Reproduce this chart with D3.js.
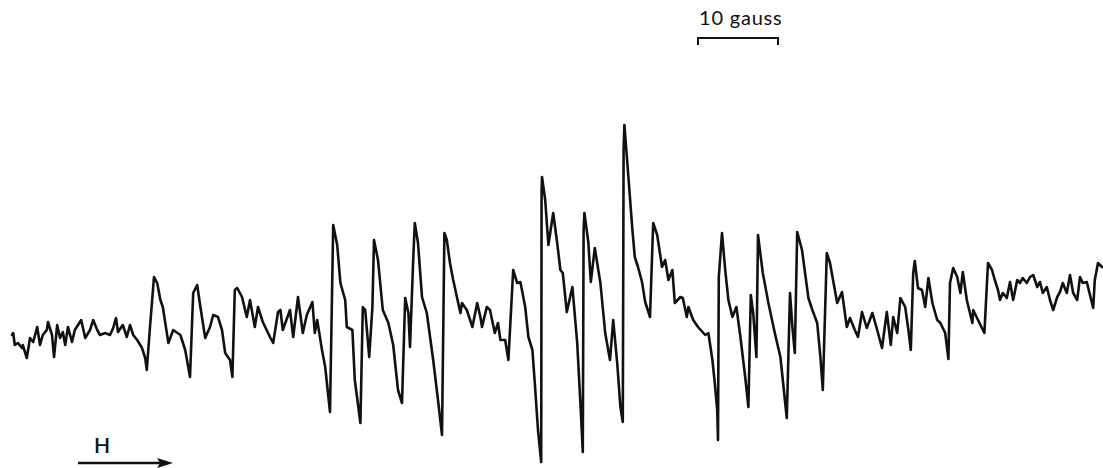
<!DOCTYPE html>
<html><head><meta charset="utf-8">
<script src="https://cdn.jsdelivr.net/npm/d3@7"></script>
<style>html,body{margin:0;padding:0;background:#fff;}svg{display:block;}</style>
</head><body>
<svg id="c" width="1103" height="468"></svg>
<script>
// Magnetic field offset (gauss)
const field = [0.25,0.4,0.6,1.0,1.5,1.6,2.1,2.5,2.9,3.4,3.75,4.1,4.6,4.75,5.25,5.5,5.9,6.25,6.6,6.9,7.25,7.75,8.1,8.5,8.9,9.4,10.0,10.4,10.9,11.25,11.9,12.5,12.9,13.25,13.5,14.1,14.6,15.0,15.4,15.9,16.5,16.9,17.1,
17.5,18.0,18.4,18.8,19.1,19.8,20.4,21.3,21.9,22.5,22.9,23.4,23.8,24.4,25.0,25.4,26.0,26.5,26.9,27.5,27.8,28.1,28.4,29.0,29.6,30.0,30.6,31.0,31.6,32.5,32.9,33.5,33.8,34.1,35.0,35.4,36.0,36.6,37.1,37.8,38.1,38.4,39.0,39.4,40.0,40.4,40.9,41.3,41.9,42.1,42.8,43.1,43.8,44.1,44.4,44.9,45.3,45.5,46.0,46.6,47.3,47.9,48.5,49.0,49.4,49.8,50.0,50.4,50.6,51.0,51.5,52.1,52.9,53.5,54.0,54.3,54.6,55.0,55.4,56.3,56.5,57.1,57.8,58.4,58.8,59.0,59.6,60.0,60.6,61.0,61.3,61.9,62.3,62.9,63.4,63.8,64.4,64.8,65.3,65.6,66.0,66.4,66.45,66.5,66.9,67.3,67.9,68.4,68.8,69.1,69.6,70.3,70.9,71.3,71.6,71.7,71.8,72.3,72.6,73.1,73.8,74.4,75.0,75.4,75.9,76.3,76.6,76.7,76.8,77.3,77.8,78.1,78.5,79.0,79.4,80.0,80.4,80.9,81.5,81.9,82.3,82.8,83.1,83.8,84.1,84.6,84.8,85.4,86.0,86.9,87.3,87.8,88.1,88.4,88.5,88.6,89.0,89.4,89.8,90.3,90.8,91.3,91.9,92.3,92.6,92.9,93.3,93.5,94.1,94.8,95.6,96.3,96.9,97.1,97.5,97.8,98.1,98.4,99.0,99.8,100.3,100.9,101.3,101.6,102.1,102.5,103.4,104.0,104.6,105.0,105.6,106.0,106.5,107.1,107.8,108.4,109.0,109.6,110.1,110.4,110.9,111.3,111.9,112.3,112.6,112.9,113.1,113.5,114.0,114.4,114.8,115.3,115.9,116.3,116.9,117.3,117.5,117.9,118.4,118.8,119.1,119.6,120.3,120.4,121.0,121.8,
122.25,122.75,123.1,123.5,123.75,124.1,124.6,125.0,125.4,125.9,126.25,126.6,127.1,127.5,127.9,128.4,128.75,129.1,129.6,130.0,130.4,130.9,131.25,131.6,132.1,132.5,132.9,133.4,133.75,134.1,134.6,135.0,135.4,135.6,136.0,136.5];
// First-derivative absorption signal (arbitrary units)
const signal = [-0.5,-0.3,-1.5,-1.3,-1.8,-1.5,-2.8,-0.8,-1.2,0.3,-1.5,-0.5,0,0.8,-0.5,-2.7,0.5,-0.8,-0.2,-1.5,0.3,-1.2,0,0.5,1.0,-0.8,0,1.0,0,-0.5,-0.3,-0.5,0.2,1.2,-0.2,0.5,-0.7,0.5,-0.5,-1.0,-1.8,-2.8,-4.0,
0.3,5.3,4.7,3.0,2.3,-1.3,0,-0.5,-2.0,-4.7,3.7,4.5,2.3,-0.8,0.3,1.5,1.3,0,-2.3,-3.0,-4.7,4.0,4.2,3.3,1.3,3.0,0.3,2.3,0.8,-0.7,-1.3,1.8,2.0,0,2.0,-0.7,3.3,-0.3,1.5,2.8,-0.3,1.0,-2.0,-3.7,-8.2,10.5,8.5,4.7,3.0,0.3,0,-5.0,-9.3,2.3,2.0,-2.7,2.3,9.0,7.0,2.0,0.7,-1.5,-6.0,-7.3,3.2,1.7,-1.7,7.0,10.7,8.7,3.3,1.7,-3.0,-7.0,-10.5,9.7,9.0,6.7,5.0,1.7,2.7,2.0,0.3,2.7,1.3,0.3,2.3,2.0,-0.3,0.7,-1.0,-1.0,-3.0,6.0,4.7,4.8,2.3,-0.7,-2.0,-5.3,-10.0,-13.2,14.0,15.3,13.0,8.5,11.7,8.7,6.0,5.7,1.8,4.3,-1.3,-7.3,-12.2,10.0,11.7,8.7,4.8,8.2,4.7,-0.3,-3.0,1.0,-3.3,-7.7,-9.2,18.0,20.5,15.3,10.0,7.3,6.3,4.8,2.8,1.3,10.7,9.5,6.3,7.0,5.0,6.0,2.7,3.3,3.2,1.3,2.3,1.0,0.3,-0.5,-0.3,-3.0,-5.3,-8.0,-11.0,5.3,9.7,6.0,3.0,1.3,2.3,-0.7,-4.7,-7.7,3.5,1.7,-2.7,9.5,5.7,2.7,-0.3,-2.7,-7.3,-8.8,3.7,0.3,-2.3,9.8,8.0,3.2,2.0,0.7,-2.7,-6.0,7.7,6.7,2.7,3.8,0.3,1.2,0,-0.7,1.8,0.2,1.7,0,-1.8,1.8,-1.5,1.3,-0.3,3.2,2.3,0,-2.0,5.7,6.9,4.2,4.0,2.3,5.2,2.7,1.0,0.7,-0.3,-2.9,4.7,6.2,5.3,3.7,5.8,3.0,0.7,2.0,1.0,-0.3,
6.7,6.0,5.0,4.0,3.0,3.7,3.2,4.8,3.0,5.0,4.7,5.2,4.7,5.3,5.5,4.3,4.8,3.7,4.3,3.0,2.0,3.3,3.8,4.7,3.7,5.5,3.7,3.0,5.3,4.7,4.8,3.5,2.2,5.0,6.7,6.3];
// Scale bar: start field and length (gauss)
const scaleBarStart = [86];
const scaleBarLength = [10];
const labels = ["10 gauss", "H"];

const svg = d3.select("#c");
const x = d3.scaleLinear().domain([0, 136.5]).range([10, 1102]);
const y = d3.scaleLinear().domain([-15, 22]).range([480, 110]);

const n = Math.min(field.length, signal.length);
const pts = d3.range(n).map(i => [field[i], signal[i]]);
const line = d3.line().x(d => x(d[0])).y(d => y(d[1])).curve(d3.curveLinear);

svg.append("path").datum(pts)
  .attr("d", line)
  .attr("fill", "none")
  .attr("stroke", "#111")
  .attr("stroke-width", 2.6)
  .attr("stroke-linejoin", "round")
  .attr("stroke-linecap", "round");

// scale bar
const b0 = x(scaleBarStart[0]), b1 = x(scaleBarStart[0] + scaleBarLength[0]);
const by = 38;
svg.append("path")
  .attr("d", `M${b0},${by+7}L${b0},${by}L${b1},${by}L${b1},${by+7}`)
  .attr("fill", "none").attr("stroke", "#111").attr("stroke-width", 2);
svg.append("text").attr("x", b0 + 1).attr("y", 25)
  .attr("font-family", "Lato, 'Open Sans', sans-serif").attr("font-size", 20)
  .attr("letter-spacing", 0.8)
  .attr("fill", "#111").text(labels[0]);

// H arrow
const ay = 463;
svg.append("line").attr("x1", 78).attr("x2", 164).attr("y1", ay).attr("y2", ay)
  .attr("stroke", "#111").attr("stroke-width", 2.4);
svg.append("path").attr("d", `M173,${ay}L157,${ay-5}L160,${ay}L157,${ay+5}Z`).attr("fill", "#111");
svg.append("text").attr("x", 94).attr("y", 453)
  .attr("font-family", "Lato, 'Open Sans', sans-serif").attr("font-size", 21).attr("font-weight", 600)
  .attr("fill", "#111").text(labels[1]);
</script>
</body></html>
